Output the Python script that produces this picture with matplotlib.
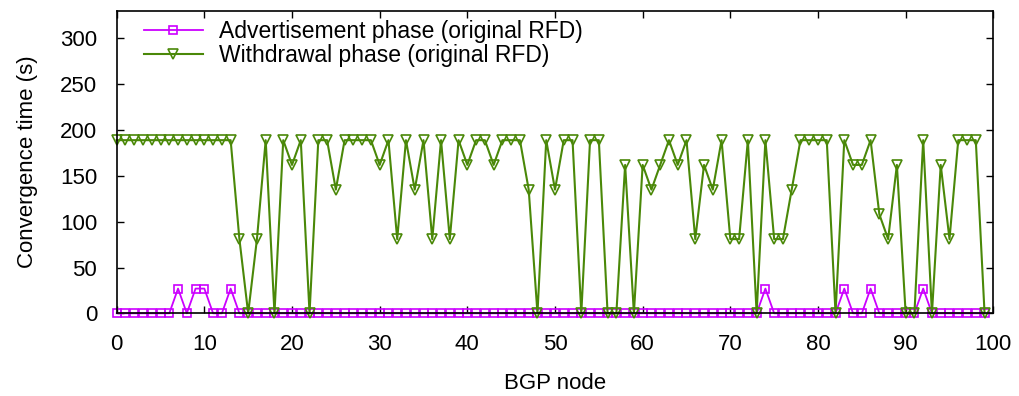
import matplotlib
matplotlib.use("Agg")
import matplotlib.pyplot as plt

plt.rcParams['font.family'] = ['Liberation Sans', 'DejaVu Sans']

nodes = list(range(100))

advertisement = [0, 0, 0, 0, 0, 0, 0, 27, 0, 27,
                 27, 0, 0, 27, 0, 0, 0, 0, 0, 0,
                 0, 0, 0, 0, 0, 0, 0, 0, 0, 0,
                 0, 0, 0, 0, 0, 0, 0, 0, 0, 0,
                 0, 0, 0, 0, 0, 0, 0, 0, 0, 0,
                 0, 0, 0, 0, 0, 0, 0, 0, 0, 0,
                 0, 0, 0, 0, 0, 0, 0, 0, 0, 0,
                 0, 0, 0, 0, 27, 0, 0, 0, 0, 0,
                 0, 0, 0, 27, 0, 0, 27, 0, 0, 0,
                 0, 0, 27, 0, 0, 0, 0, 0, 0, 0]

withdrawal = [189, 189, 189, 189, 189, 189, 189, 189, 189, 189,
              189, 189, 189, 189, 81, 0, 81, 189, 0, 189,
              162, 189, 0, 189, 189, 135, 189, 189, 189, 189,
              162, 189, 81, 189, 135, 189, 81, 189, 81, 189,
              162, 189, 189, 162, 189, 189, 189, 135, 0, 189,
              135, 189, 189, 0, 189, 189, 0, 0, 162, 0,
              162, 135, 162, 189, 162, 189, 81, 162, 135, 189,
              81, 81, 189, 0, 189, 81, 81, 135, 189, 189,
              189, 189, 0, 189, 162, 162, 189, 108, 81, 162,
              0, 0, 189, 0, 162, 81, 189, 189, 189, 0]

labels = ["Advertisement phase (original RFD)", "Withdrawal phase (original RFD)"]
xticks = [0, 10, 20, 30, 40, 50, 60, 70, 80, 90, 100]
yticks = [0, 50, 100, 150, 200, 250, 300]

fig = plt.figure(figsize=(10.19, 3.96), dpi=100)
ax = fig.add_axes([0.1145, 0.2088, 0.9748 - 0.1145, 0.9722 - 0.2088])

mag = '#cc00ff'
grn = '#4a8808'

ax.plot(nodes, advertisement, color=mag, lw=1.3, marker='s', ms=6,
        mfc='none', mec=mag, mew=1.2, label=labels[0], clip_on=False, zorder=3)
ax.plot(nodes, withdrawal, color=grn, lw=1.5, marker='v', ms=7,
        mfc='none', mec=grn, mew=1.2, label=labels[1], clip_on=False, zorder=4)

ax.set_xlim(0, 100)
ax.set_ylim(0, 330)
ax.set_xticks(xticks)
ax.set_yticks(yticks)
ax.tick_params(direction='in', length=5, width=1, top=True, right=True,
               labelsize=16, colors='black')
ax.tick_params(axis='y', pad=14)
ax.tick_params(axis='x', pad=15)
for s in ax.spines.values():
    s.set_linewidth(1.2)
    s.set_zorder(5)

ax.set_xlabel("BGP node", fontsize=16, labelpad=13)
ax.set_ylabel("Convergence time (s)", fontsize=16, labelpad=16)

leg = ax.legend(loc='upper left', bbox_to_anchor=(0.015, 1.016), frameon=False,
                fontsize=16.5, handlelength=2.6, handletextpad=0.7,
                labelspacing=0.05, borderaxespad=0.2)

fig.savefig("out.png", dpi=100)
